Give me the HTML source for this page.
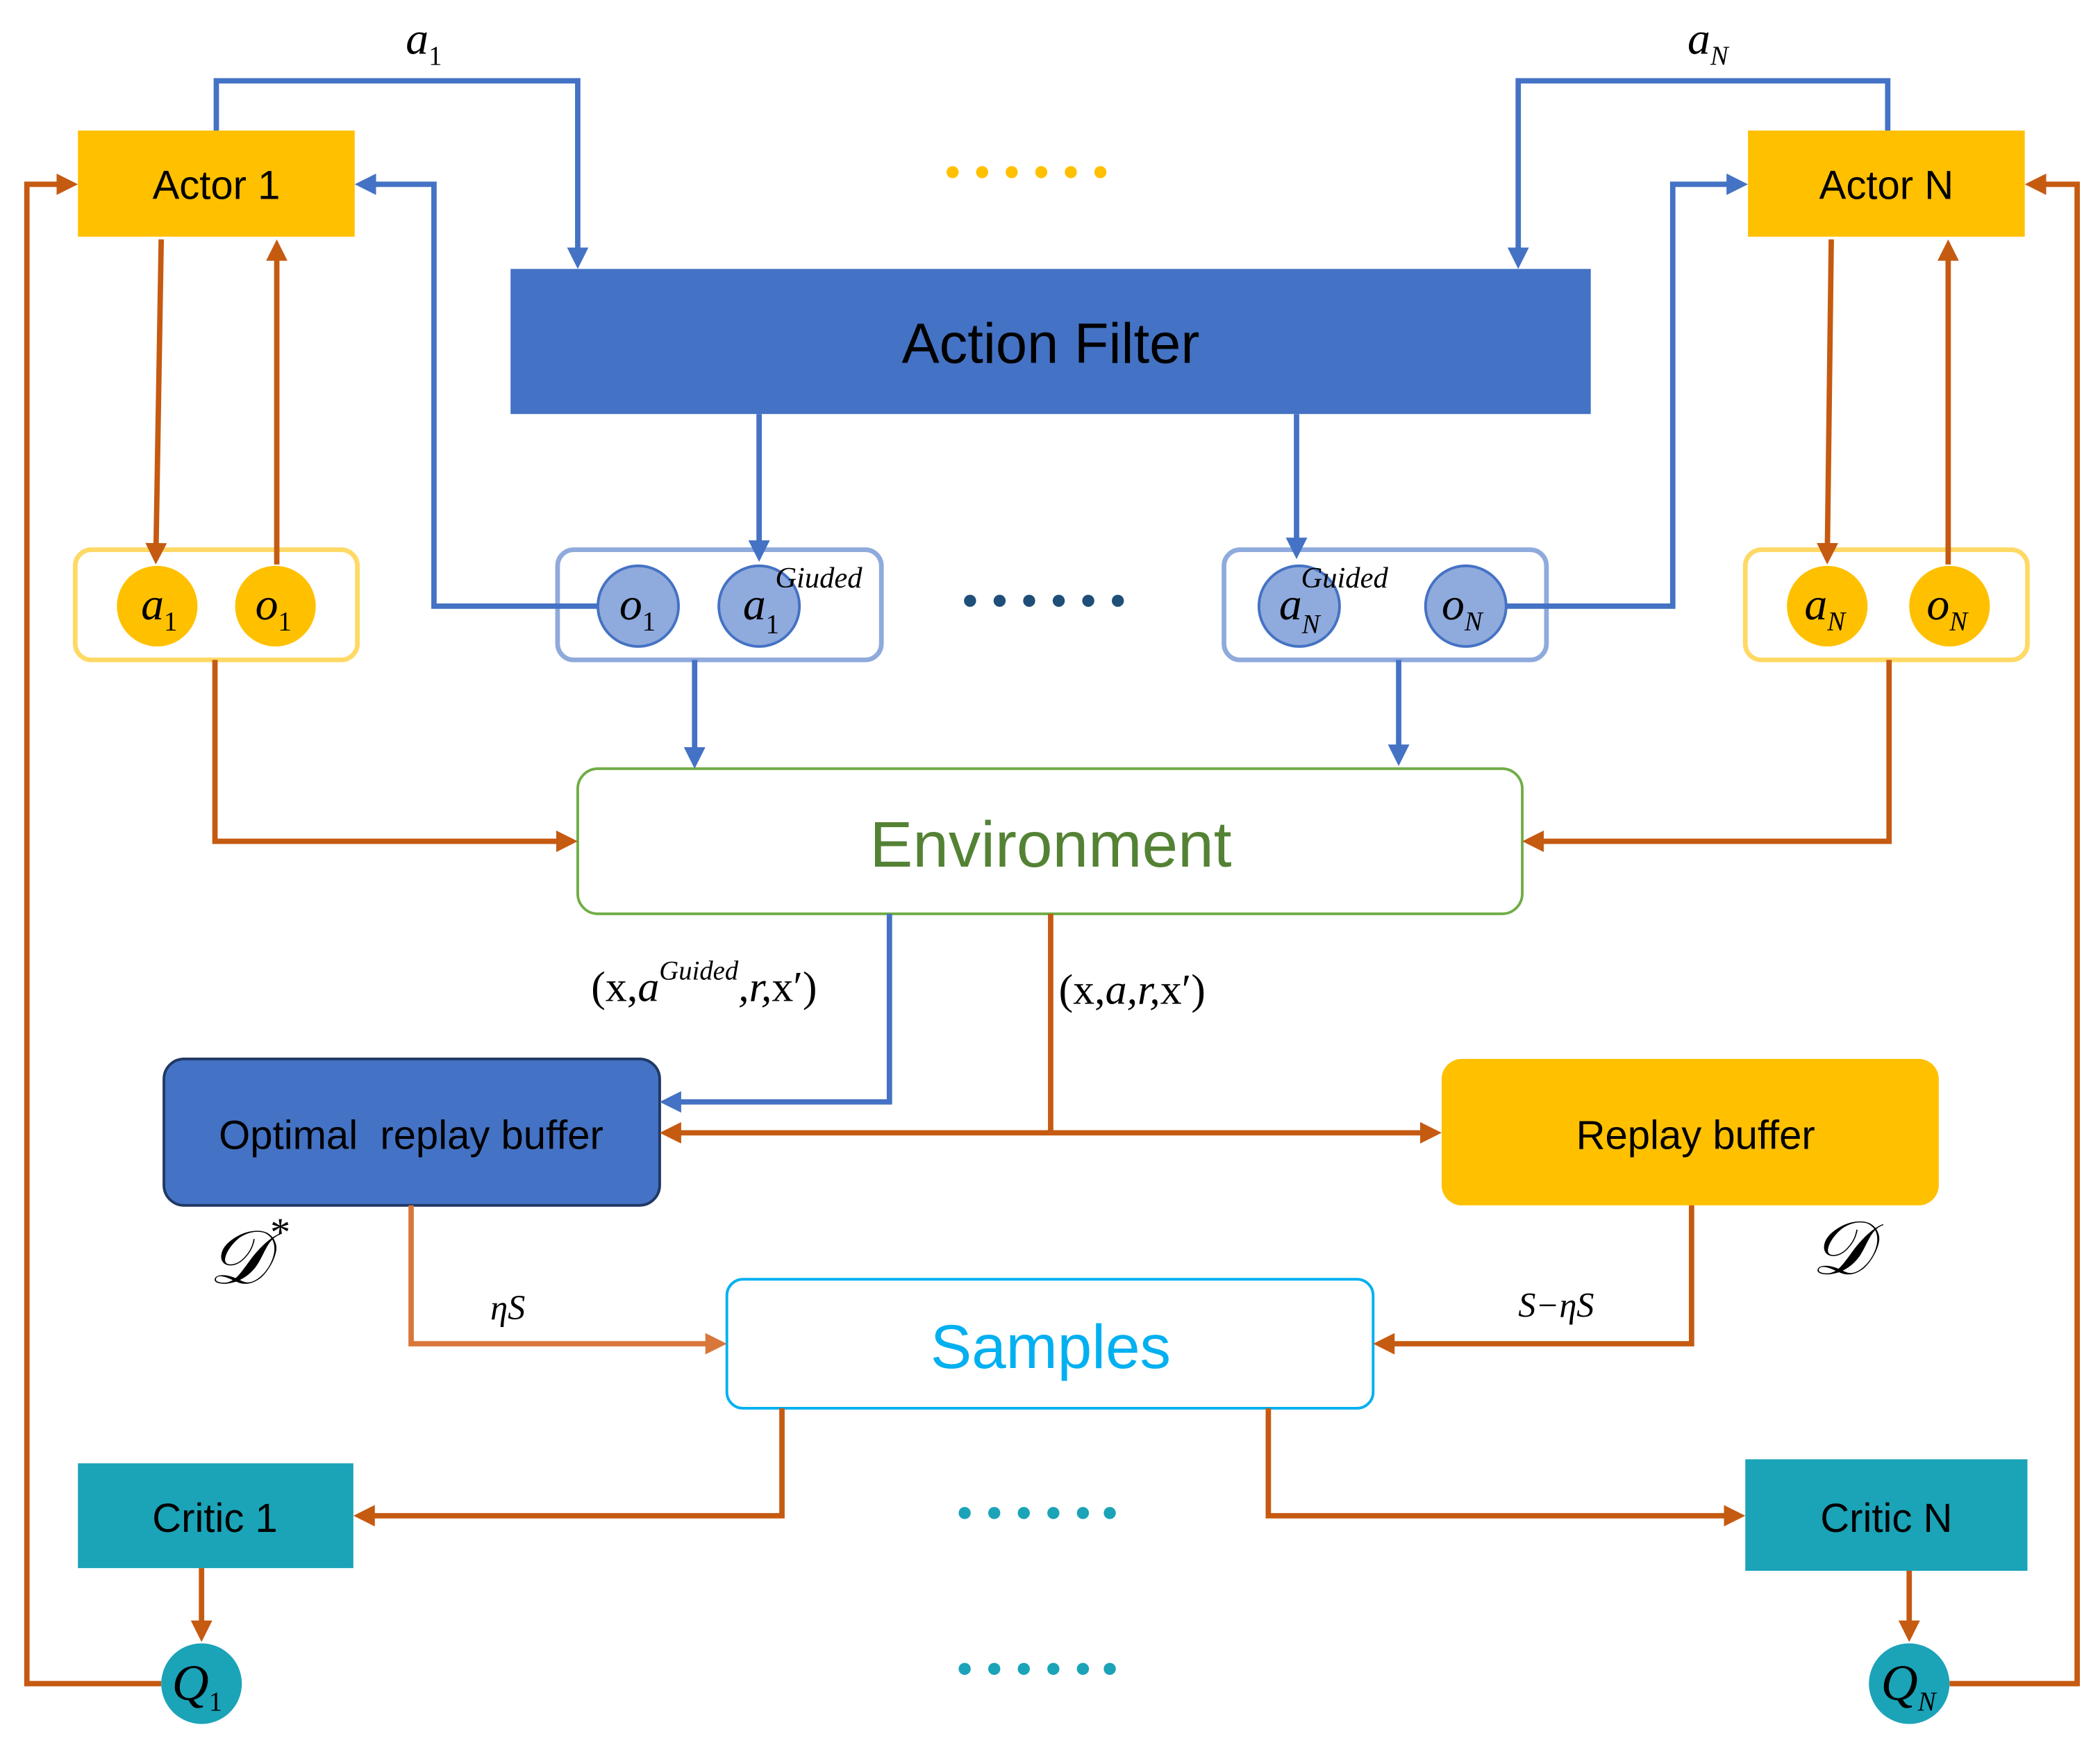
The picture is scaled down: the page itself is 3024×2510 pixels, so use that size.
<!DOCTYPE html>
<html><head><meta charset="utf-8"><style>
html,body{margin:0;padding:0;background:#fff}
svg{display:block}
.t{font-family:"Liberation Sans",sans-serif}
.m{font-family:"Liberation Serif",serif;font-style:italic}
</style></head><body>
<svg width="3024" height="2510" viewBox="0 0 1563 1297" xmlns="http://www.w3.org/2000/svg">
<defs>
<marker id="ab" markerWidth="4" markerHeight="4" refX="3" refY="2" orient="auto" markerUnits="strokeWidth"><path d="M0,0 L4,2 L0,4 Z" fill="#4472C4"/></marker>
<marker id="ao" markerWidth="4" markerHeight="4" refX="3" refY="2" orient="auto" markerUnits="strokeWidth"><path d="M0,0 L4,2 L0,4 Z" fill="#C55A11"/></marker>
<marker id="ao2" markerWidth="4" markerHeight="4" refX="3" refY="2" orient="auto-start-reverse" markerUnits="strokeWidth"><path d="M0,0 L4,2 L0,4 Z" fill="#C55A11"/></marker>
<marker id="al" markerWidth="4" markerHeight="4" refX="3" refY="2" orient="auto" markerUnits="strokeWidth"><path d="M0,0 L4,2 L0,4 Z" fill="#D9773A"/></marker>
</defs>

<!-- Boxes -->
<rect x="58" y="97" width="206" height="79" fill="#FFC000"/>
<text x="161" y="148" font-size="30" text-anchor="middle" class="t">Actor 1</text>
<rect x="1301" y="97" width="206" height="79" fill="#FFC000"/>
<text x="1404" y="148" font-size="30" text-anchor="middle" class="t">Actor N</text>
<rect x="380" y="200" width="804" height="108" fill="#4472C4"/>
<text x="782" y="270" font-size="42" text-anchor="middle" class="t">Action Filter</text>

<g fill="#FFC000"><circle cx="709" cy="128" r="4.5"/><circle cx="731" cy="128" r="4.5"/><circle cx="753" cy="128" r="4.5"/><circle cx="775" cy="128" r="4.5"/><circle cx="797" cy="128" r="4.5"/><circle cx="819" cy="128" r="4.5"/></g>
<g fill="#1F4E79"><circle cx="722" cy="447" r="4.5"/><circle cx="744" cy="447" r="4.5"/><circle cx="766" cy="447" r="4.5"/><circle cx="788" cy="447" r="4.5"/><circle cx="810" cy="447" r="4.5"/><circle cx="832" cy="447" r="4.5"/></g>
<g fill="#1BA3B8"><circle cx="718" cy="1126" r="4.5"/><circle cx="740" cy="1126" r="4.5"/><circle cx="762" cy="1126" r="4.5"/><circle cx="784" cy="1126" r="4.5"/><circle cx="806" cy="1126" r="4.5"/><circle cx="826" cy="1126" r="4.5"/>
<circle cx="718" cy="1242" r="4.5"/><circle cx="740" cy="1242" r="4.5"/><circle cx="762" cy="1242" r="4.5"/><circle cx="784" cy="1242" r="4.5"/><circle cx="806" cy="1242" r="4.5"/><circle cx="826" cy="1242" r="4.5"/></g>

<rect x="56" y="409" width="210" height="82" rx="12" fill="none" stroke="#FFD966" stroke-width="3.5"/>
<rect x="1299" y="409" width="210" height="82" rx="12" fill="none" stroke="#FFD966" stroke-width="3.5"/>
<rect x="415" y="409" width="241" height="82" rx="12" fill="none" stroke="#8FAADC" stroke-width="3.5"/>
<rect x="911" y="409" width="240" height="82" rx="12" fill="none" stroke="#8FAADC" stroke-width="3.5"/>

<rect x="430" y="572" width="703" height="108" rx="15" fill="#fff" stroke="#70AD47" stroke-width="2"/>
<text x="782" y="645" font-size="48" text-anchor="middle" class="t" fill="#548235">Environment</text>
<rect x="122" y="788" width="369" height="109" rx="15" fill="#4472C4" stroke="#203864" stroke-width="2"/>
<text x="306" y="855" font-size="30" text-anchor="middle" class="t" xml:space="preserve">Optimal  replay buffer</text>
<rect x="1073" y="788" width="370" height="109" rx="15" fill="#FFC000"/>
<text x="1262" y="855" font-size="30" text-anchor="middle" class="t">Replay buffer</text>
<rect x="541" y="952" width="481" height="96" rx="12" fill="#fff" stroke="#00B0F0" stroke-width="2"/>
<text x="782" y="1018" font-size="46" text-anchor="middle" class="t" fill="#00B0F0">Samples</text>
<rect x="58" y="1089" width="205" height="78" fill="#1BA3B8"/>
<text x="160" y="1140" font-size="30" text-anchor="middle" class="t">Critic 1</text>
<rect x="1299" y="1086" width="210" height="83" fill="#1BA3B8"/>
<text x="1404" y="1140" font-size="30" text-anchor="middle" class="t">Critic N</text>

<!-- Blue connectors -->
<g fill="none" stroke="#4472C4" stroke-width="4">
<path d="M161,97 V60 H430 V196" marker-end="url(#ab)"/>
<path d="M1405,97 V60 H1130 V196" marker-end="url(#ab)"/>
<path d="M445,451 H323 V137 H268" marker-end="url(#ab)"/>
<path d="M1121,451 H1245 V137 H1297" marker-end="url(#ab)"/>
<path d="M565,308 V414" marker-end="url(#ab)"/>
<path d="M965,308 V412" marker-end="url(#ab)"/>
<path d="M517,491 V568" marker-end="url(#ab)"/>
<path d="M1041,491 V566" marker-end="url(#ab)"/>
<path d="M662,680 V820 H495" marker-end="url(#ab)"/>
</g>
<!-- Orange connectors -->
<g fill="none" stroke="#C55A11" stroke-width="4">
<path d="M120,178 L116,416" marker-end="url(#ao)"/>
<path d="M206,420 V182" marker-end="url(#ao)"/>
<path d="M1363,178 L1360,416" marker-end="url(#ao)"/>
<path d="M1450,420 V182" marker-end="url(#ao)"/>
<path d="M160,491 V626 H426" marker-end="url(#ao)"/>
<path d="M1406,491 V626 H1137" marker-end="url(#ao)"/>
<path d="M782,680 V843"/>
<path d="M495,843 H1069" marker-start="url(#ao2)" marker-end="url(#ao2)"/>
<path d="M1259,897 V1000 H1026" marker-end="url(#ao)"/>
<path d="M582,1048 V1128 H267" marker-end="url(#ao)"/>
<path d="M944,1048 V1128 H1295" marker-end="url(#ao)"/>
<path d="M150,1167 V1218" marker-end="url(#ao)"/>
<path d="M1421,1169 V1218" marker-end="url(#ao)"/>
<path d="M120,1253 H20 V137 H54" marker-end="url(#ao)"/>
<path d="M1451,1253 H1546 V137 H1511" marker-end="url(#ao)"/>
</g>
<path d="M306,897 V1000 H537" fill="none" stroke="#D9773A" stroke-width="4" marker-end="url(#al)"/>

<!-- Circles -->
<g stroke="none" fill="#FFC000"><circle cx="117" cy="451" r="30"/><circle cx="205" cy="451" r="30"/><circle cx="1360" cy="451" r="30"/><circle cx="1451" cy="451" r="30"/></g>
<g fill="#8FAADC" stroke="#4472C4" stroke-width="2"><circle cx="475" cy="451" r="30"/><circle cx="565" cy="451" r="30"/><circle cx="967" cy="451" r="30"/><circle cx="1091" cy="451" r="30"/></g>
<g fill="#1BA3B8"><circle cx="150" cy="1253" r="30"/><circle cx="1421" cy="1253" r="30"/></g>

<!-- Math labels -->
<g class="m" font-size="34">
<text x="105" y="461">a<tspan font-size="20" font-style="normal" dy="8">1</tspan></text>
<text x="190" y="461">o<tspan font-size="20" font-style="normal" dy="8">1</tspan></text>
<text x="1343" y="461">a<tspan font-size="20" dy="8">N</tspan></text>
<text x="1434" y="461">o<tspan font-size="20" dy="8">N</tspan></text>
<text x="461" y="461">o<tspan font-size="20" font-style="normal" dy="8">1</tspan></text>
<text x="553" y="461">a<tspan font-size="20" font-style="normal" dy="10">1</tspan><tspan font-size="22" dx="-3" dy="-34">Giuded</tspan></text>
<text x="952" y="461">a<tspan font-size="20" dy="10">N</tspan><tspan font-size="22" dx="-14" dy="-34">Guided</tspan></text>
<text x="1073" y="461">o<tspan font-size="20" dy="8">N</tspan></text>
<text x="302" y="40">a<tspan font-size="20" font-style="normal" dy="8">1</tspan></text>
<text x="1256" y="40">a<tspan font-size="20" dy="8">N</tspan></text>
<text x="128" y="1265" font-size="38">Q<tspan font-size="20" font-style="normal" dy="8">1</tspan></text>
<text x="1400" y="1265" font-size="38">Q<tspan font-size="20" dy="8">N</tspan></text>
<text x="440" y="745" font-size="32"><tspan font-style="normal">(x,</tspan>a<tspan font-size="20" dy="-16">Guided</tspan><tspan dy="16">,r,</tspan><tspan font-style="normal">x′)</tspan></text>
<text x="788" y="747" font-size="32"><tspan font-style="normal">(x,</tspan>a,r,<tspan font-style="normal">x′)</tspan></text>
<text x="365" y="982" font-size="26">ηS</text>
<text x="1130" y="980" font-size="26">S−ηS</text>
<text x="155" y="955" font-size="56">𝒟<tspan font-size="30" dy="-28">*</tspan></text>
<text x="1348" y="948" font-size="56">𝒟</text>
</g>
</svg>
</body></html>
